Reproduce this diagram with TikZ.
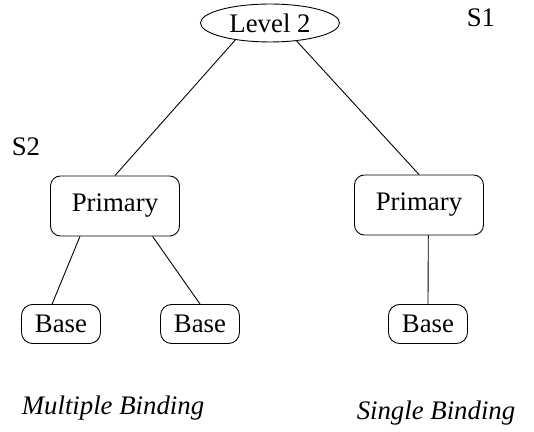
\documentclass[tikz,border=0pt]{standalone}
\usepackage{fontspec}
\setmainfont{Liberation Serif}
\usetikzlibrary{shapes.geometric}
\tikzstyle{level} = [ellipse, draw, minimum width=62.3pt, minimum height=17pt, inner sep=0]
\tikzstyle{prim} = [rectangle, rounded corners=4.5pt, draw, minimum width=57.8pt, minimum height=26.9pt, inner sep=0]
\tikzstyle{base} = [rectangle, rounded corners=5pt, draw, minimum width=35.4pt, minimum height=17.5pt, inner sep=0]
\tikzstyle{lbl} = [anchor=base, inner sep=0]

\begin{document}
\begin{tikzpicture}[x=0.448pt,y=-0.448pt,font=\fontsize{12}{14}\selectfont]
\useasboundingbox (0,0) rectangle (534,432);

\node[level] (lvl) at (270,23) {Level 2};
\node[prim] (pl) at (115,206) {Primary};
\node[prim] (pr) at (419,205) {Primary};
\node[base] (b1) at (61,324) {Base};
\node[base] (b2) at (200,324) {Base};
\node[base] (b3) at (428,324) {Base};

\node[lbl] (s1) at (481,27) {S1};
\node[lbl] (s2) at (26,156) {S2};
\node[lbl] (mb) at (113,415) {\itshape Multiple Binding};
\node[lbl] (sb) at (436,420) {\itshape Single Binding};

\draw (lvl.-154)--(pl.north);
\draw (lvl.-34)--(pr.north);
\draw (pl.-139)--(b1.114);
\draw (pl.-39)--(b2.north);
\draw (pr.-73)--(b3.north);
\end{tikzpicture}
\end{document}
